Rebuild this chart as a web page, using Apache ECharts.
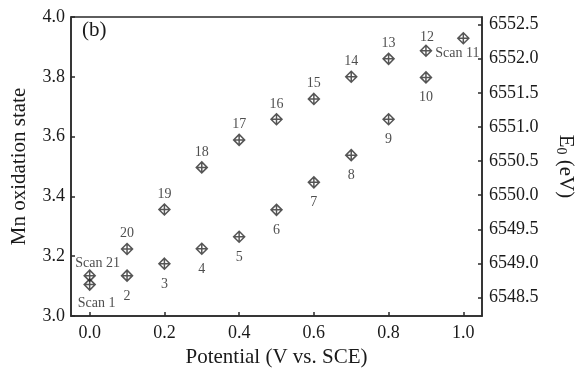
<!DOCTYPE html>
<html>
<head>
<meta charset="utf-8">
<script src="https://cdn.jsdelivr.net/npm/echarts@6/dist/echarts.min.js"></script>
<style>html,body{margin:0;padding:0;background:#fff}#c{width:575px;height:370px}</style>
</head>
<body>
<div id="c"></div>
<script>
// Forward scan (scans 1-11)
const forwardPotential = [0.0, 0.1, 0.2, 0.3, 0.4, 0.5, 0.6, 0.7, 0.8, 0.9, 1.0];
const forwardState = [3.105, 3.135, 3.175, 3.225, 3.265, 3.355, 3.447, 3.538, 3.658, 3.798, 3.929];
const forwardLabels = ['Scan 1', '2', '3', '4', '5', '6', '7', '8', '9', '10', 'Scan 11'];
// Reverse scan (scans 12-21)
const reversePotential = [0.9, 0.8, 0.7, 0.6, 0.5, 0.4, 0.3, 0.2, 0.1, 0.0];
const reverseState = [3.887, 3.860, 3.800, 3.726, 3.658, 3.589, 3.497, 3.356, 3.224, 3.135];
const reverseLabels = ['12', '13', '14', '15', '16', '17', '18', '19', '20', 'Scan 21'];
// Tick labels
const xTicks = [0.0, 0.2, 0.4, 0.6, 0.8, 1.0];
const e0Ticks = [6548.5, 6549.0, 6549.5, 6550.0, 6550.5, 6551.0, 6551.5, 6552.0, 6552.5];

const FONT = '"Liberation Serif", "Times New Roman", serif';
const INK = '#2a2a2a';
const marker = 'path://M5,0 L10,5 L5,10 L0,5 Z M5,0 L5,10 M0,5 L10,5';

function pt(x, y, name, pos, dist, off) {
  return { value: [x, y], name: name,
    label: { position: pos, distance: dist, offset: off || [0, 0] } };
}
const forwardData = forwardPotential.map((x, i) => {
  const n = forwardLabels[i];
  if (n === 'Scan 1') return pt(x, forwardState[i], n, 'bottom', 5, [7, 0]);
  if (n === 'Scan 11') return pt(x, forwardState[i], n, 'bottom', 2, [-6, 0]);
  return pt(x, forwardState[i], n, 'bottom', 7);
});
const reverseData = reversePotential.map((x, i) => {
  const n = reverseLabels[i];
  if (n === 'Scan 21') return pt(x, reverseState[i], n, 'top', 1, [8, 2]);
  if (n === '12') return pt(x, reverseState[i], n, 'top', 0, [1, 0]);
  return pt(x, reverseState[i], n, 'top', 2);
});

const axisLineStyle = { color: INK, width: 1.5 };
const chart = echarts.init(document.getElementById('c'));
chart.setOption({
  animation: false,
  backgroundColor: '#fff',
  textStyle: { fontFamily: FONT },
  grid: { left: 71, right: 93, top: 17, bottom: 54, show: true, borderColor: INK, borderWidth: 1.5,
    containLabel: false, outerBoundsMode: 'none' },
  graphic: [{ type: 'text', left: 82, top: 20,
    style: { text: '(b)', font: '21px ' + FONT, fill: '#1a1a1a' } }],
  xAxis: {
    type: 'value', min: -0.05, max: 1.05,
    name: 'Potential (V vs. SCE)', nameLocation: 'middle', nameGap: 31,
    nameTextStyle: { fontSize: 21, color: '#1a1a1a', fontFamily: FONT },
    axisLine: { show: true, onZero: false, lineStyle: axisLineStyle },
    axisTick: { show: true, inside: true, length: 4, lineStyle: axisLineStyle, customValues: xTicks },
    axisLabel: { customValues: xTicks, fontSize: 18, color: '#1a1a1a', margin: 8, fontFamily: FONT,
      formatter: v => v.toFixed(1) },
    splitLine: { show: false }
  },
  yAxis: [{
    type: 'value', min: 3.0, max: 4.0, interval: 0.2, position: 'left',
    name: 'Mn oxidation state', nameLocation: 'middle', nameGap: 41,
    nameTextStyle: { fontSize: 21, color: '#1a1a1a', fontFamily: FONT },
    axisLine: { show: true, onZero: false, lineStyle: axisLineStyle },
    axisTick: { show: true, inside: true, length: 4, lineStyle: axisLineStyle },
    axisLabel: { fontSize: 18, color: '#1a1a1a', margin: 6, fontFamily: FONT, formatter: v => v.toFixed(1) },
    splitLine: { show: false }
  }, {
    type: 'value', min: 6548.23, max: 6552.61, position: 'right',
    name: '{e|E}{s|0}{e| (eV)}', nameLocation: 'middle', nameGap: 72, nameRotate: -90,
    nameTextStyle: { color: '#1a1a1a', fontFamily: FONT,
      rich: { e: { fontSize: 21, fontFamily: FONT, color: '#1a1a1a' },
              s: { fontSize: 14, fontFamily: FONT, color: '#1a1a1a', padding: [10, 0, 0, 0] } } },
    axisLine: { show: true, onZero: false, lineStyle: axisLineStyle },
    axisTick: { show: true, inside: true, length: 4, lineStyle: axisLineStyle, customValues: e0Ticks },
    axisLabel: { customValues: e0Ticks, fontSize: 18, color: '#1a1a1a', margin: 7, fontFamily: FONT,
      formatter: v => v.toFixed(1) },
    splitLine: { show: false }
  }],
  series: [forwardData, reverseData].map(d => ({
    type: 'scatter', yAxisIndex: 0, data: d,
    symbol: marker, symbolSize: 11,
    itemStyle: { color: 'rgba(0,0,0,0)', borderColor: INK, borderWidth: 1.5 },
    label: { show: true, formatter: p => p.name, fontSize: 14, color: '#222', fontFamily: FONT },
    emphasis: { disabled: true }
  }))
});
</script>
</body>
</html>
